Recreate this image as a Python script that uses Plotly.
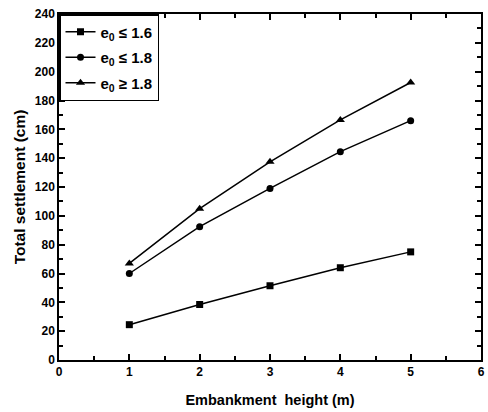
import plotly.graph_objects as go

heights = [1, 2, 3, 4, 5]
s_16 = [24.5, 38.5, 51.5, 64, 75]
s_18a = [60, 92.5, 119, 144.5, 166]
s_18b = [67, 105, 137.5, 166.5, 192.5]
names = ["<b>e<sub>0</sub> ≤ 1.6</b>", "<b>e<sub>0</sub> ≤ 1.8</b>", "<b>e<sub>0</sub> ≥ 1.8</b>"]
symbols = ["square", "circle", "triangle-up"]
sizes = [7, 7, 8]

fig = go.Figure()
for i, (ys, nm, sym, sz) in enumerate(zip([s_16, s_18a, s_18b], names, symbols, sizes)):
    fig.add_trace(go.Scatter(x=heights, y=ys, mode="lines+markers", name=nm, legendgroup=f"g{i}",
                             line=dict(color="black", width=1.5),
                             marker=dict(symbol=sym, size=sz, color="black")))

font = "Liberation Sans, Arial, sans-serif"
axis_common = dict(showline=True, linecolor="black", linewidth=1.5, mirror="allticks",
                   ticks="inside", ticklen=6, tickwidth=1.5, tickcolor="black",
                   showgrid=False, zeroline=False,
                   tickfont=dict(family=font, size=12, color="black", weight="bold"))
fig.update_xaxes(range=[0, 6], dtick=1, tick0=0,
                 minor=dict(ticks="inside", ticklen=4, tickwidth=1.5, tickcolor="black", dtick=0.5, showgrid=False),
                 title=dict(text="<b>Embankment  height (m)</b>", font=dict(family=font, size=14.5, color="black"), standoff=17),
                 **axis_common)
fig.update_yaxes(range=[0, 240], dtick=20, tick0=0,
                 minor=dict(ticks="inside", ticklen=4, tickwidth=1.5, tickcolor="black", dtick=10, showgrid=False),
                 title=dict(text="<b>Total settlement (cm)</b>", font=dict(family=font, size=15.5, color="black"), standoff=5),
                 **axis_common)
fig.update_layout(width=488, height=412, margin=dict(l=59, r=3, t=14, b=52),
                  plot_bgcolor="white", paper_bgcolor="white",
                  legend=dict(x=0, y=1, xanchor="left", yanchor="top", bordercolor="black", borderwidth=1.5,
                              bgcolor="white", font=dict(family=font, size=15, color="black"),
                              tracegroupgap=3, itemwidth=30),
                  showlegend=True)
fig.write_html("out.html")
